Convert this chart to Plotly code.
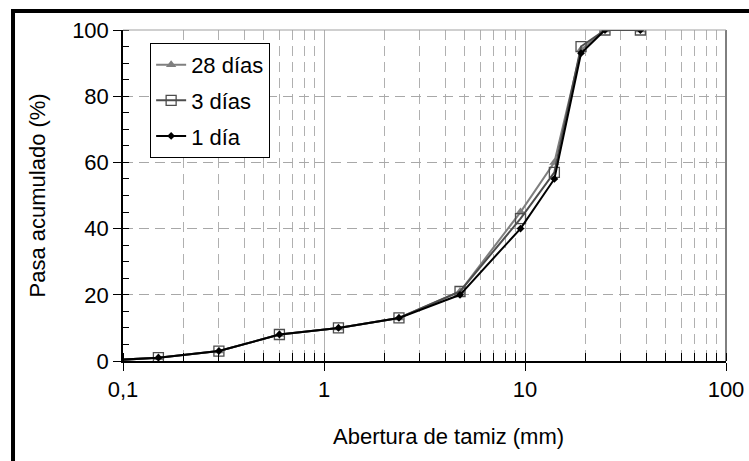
import plotly.graph_objects as go

sizes = [0.075, 0.15, 0.3, 0.6, 1.18, 2.36, 4.75, 9.5, 14, 19, 25, 37.5]
dias28 = [0, 1, 3, 8, 10, 13, 21, 45, 60, 94, 100, 100]
dias3 = [0, 1, 3, 8, 10, 13, 21, 43, 57, 95, 100, 100]
dia1 = [0, 1, 3, 8, 10, 13, 20, 40, 55, 93, 100, 100]
names = ["28 días", "3 días", "1 día"]
x_tickvals = [0.1, 1, 10, 100]
x_ticktext = ["0,1", "1", "10", "100"]
y_tickvals = [0, 20, 40, 60, 80, 100]

FONT = "Liberation Sans"
DASH = "10px,6px"
fig = go.Figure()
fig.add_trace(go.Scatter(x=sizes, y=dias28, name=names[0], mode="lines+markers", legendgroup="a",
                         line=dict(color="#7f7f7f", width=2),
                         marker=dict(symbol="triangle-up", size=9, color="#7f7f7f")))
fig.add_trace(go.Scatter(x=sizes, y=dias3, name=names[1], mode="lines+markers", legendgroup="b",
                         line=dict(color="#4d4d4d", width=2),
                         marker=dict(symbol="square-open", size=10, color="#4d4d4d", line=dict(width=1.3))))
fig.add_trace(go.Scatter(x=sizes, y=dia1, name=names[2], mode="lines+markers", legendgroup="c",
                         line=dict(color="#000000", width=2),
                         marker=dict(symbol="diamond", size=6, color="#000000")))

fig.update_layout(
    width=749, height=461,
    margin=dict(l=123, r=23, t=30, b=100),
    paper_bgcolor="white", plot_bgcolor="white",
    font=dict(family=FONT, size=22, color="black"),
    showlegend=True,
    legend=dict(x=0.045, y=0.961, xanchor="left", yanchor="top",
                bgcolor="white", bordercolor="black", borderwidth=1,
                font=dict(size=22), tracegroupgap=4, traceorder="grouped",
                itemwidth=30),
)
fig.update_xaxes(type="log", range=[-1, 2], tickvals=x_tickvals, ticktext=x_ticktext,
                 automargin=False,
                 showline=True, linecolor="black", linewidth=1.5,
                 ticks="outside", ticklen=8, tickcolor="black",
                 showgrid=True, gridcolor="#b0b0b0", gridwidth=1,
                 minor=dict(dtick="D1", showgrid=True, gridcolor="#b0b0b0", griddash=DASH,
                            ticks="inside", ticklen=8, tickcolor="black"),
                 zeroline=False)
fig.update_yaxes(range=[0, 100], tickvals=y_tickvals, automargin=False,
                 showline=True, linecolor="black", linewidth=1.5,
                 ticks="outside", ticklen=8, tickcolor="black",
                 showgrid=True, gridcolor="#a8a8a8", griddash=DASH, gridwidth=1,
                 minor=dict(dtick=5, ticks="inside", ticklen=6, tickcolor="black", showgrid=False),
                 zeroline=False)

fig.add_annotation(text="Abertura de tamiz (mm)", xref="paper", yref="paper",
                   x=0.539, y=-0.2296, xanchor="center", yanchor="middle",
                   showarrow=False, font=dict(size=22))
fig.add_annotation(text="Pasa acumulado (%)", xref="paper", yref="paper",
                   x=-0.1426, y=0.5, xanchor="center", yanchor="middle", textangle=-90,
                   showarrow=False, font=dict(size=22))

fig.add_shape(type="line", xref="paper", yref="paper", x0=1, x1=1, y0=0, y1=1,
              line=dict(color="black", width=1))
fig.add_shape(type="line", xref="paper", yref="paper", x0=0, x1=1, y0=1, y1=1,
              line=dict(color="#a0a0a0", width=1))
fig.add_shape(type="rect", xref="paper", yref="paper", x0=-0.1824, x1=1.2, y0=-0.5, y1=1.0574,
              line=dict(color="black", width=4))

fig.write_html("out.html")
